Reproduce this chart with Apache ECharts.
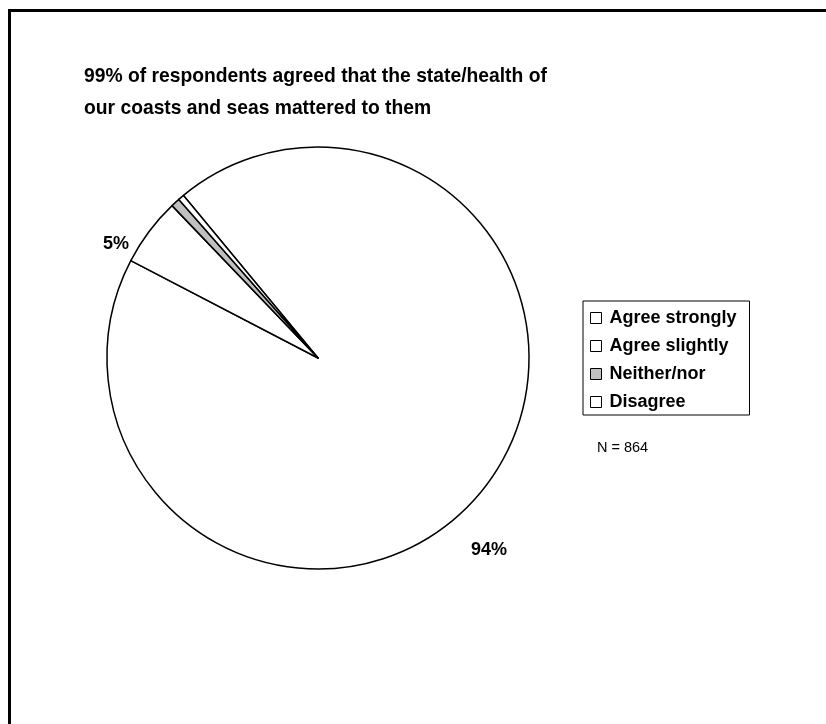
<!DOCTYPE html>
<html>
<head>
<meta charset="utf-8">
<script src="https://cdn.jsdelivr.net/npm/echarts@6/dist/echarts.min.js"></script>
<style>
html,body{margin:0;padding:0;background:#fff;}
#c{width:826px;height:724px;}
</style>
</head>
<body>
<div id="c"></div>
<script>
var categories = ['Agree strongly', 'Agree slightly', 'Neither/nor', 'Disagree'];
var counts = [809, 45, 6, 4];
var fills = ['#ffffff', '#ffffff', '#c0c0c0', '#ffffff'];
var titleText = '99% of respondents agreed that the state/health of\nour coasts and seas mattered to them';
var noteText = 'N = 864';
var labelPos = [[489, 550], [116, 244]];

var chart = echarts.init(document.getElementById('c'), null, {renderer: 'canvas'});
var data = categories.map(function (name, i) {
  return {
    name: name,
    value: counts[i],
    itemStyle: {color: fills[i]},
    label: {show: i < 2}
  };
});
chart.setOption({
  animation: false,
  backgroundColor: '#ffffff',
  title: {
    text: titleText,
    left: 84,
    top: 61,
    padding: 0,
    textStyle: {
      fontFamily: 'Liberation Sans, Arial, sans-serif',
      fontSize: 19.3,
      fontWeight: 'bold',
      color: '#000',
      lineHeight: 32
    }
  },
  legend: {
    orient: 'vertical',
    left: 583,
    top: 301,
    data: categories,
    itemWidth: 11,
    itemHeight: 11,
    itemGap: 10,
    padding: [8, 13, 4, 7],
    borderColor: '#000',
    borderWidth: 1,
    borderRadius: 0,
    icon: 'rect',
    selectedMode: false,
    itemStyle: {borderColor: '#000', borderWidth: 1},
    textStyle: {
      fontFamily: 'Liberation Sans, Arial, sans-serif',
      fontSize: 18,
      fontWeight: 'bold',
      color: '#000',
      padding: [0, 0, 0, 3]
    }
  },
  graphic: [
    {type: 'line', shape: {x1: 9.5, y1: 10.5, x2: 9.5, y2: 724}, style: {stroke: '#000', lineWidth: 3}},
    {type: 'line', shape: {x1: 8, y1: 10.5, x2: 826, y2: 10.5}, style: {stroke: '#000', lineWidth: 3}},
    {type: 'text', left: 597, top: 440, style: {text: noteText, fontFamily: 'Liberation Sans, Arial, sans-serif', fontSize: 14.5, fill: '#000'}}
  ],
  series: [{
    type: 'pie',
    center: [318, 358],
    radius: 211,
    startAngle: 129.6,
    clockwise: true,
    avoidLabelOverlap: false,
    itemStyle: {borderColor: '#000', borderWidth: 1.5},
    emphasis: {disabled: true},
    label: {
      position: 'outside',
      formatter: function (p) { return Math.round(p.percent) + '%'; },
      fontFamily: 'Liberation Sans, Arial, sans-serif',
      fontSize: 18,
      fontWeight: 'bold',
      color: '#000'
    },
    labelLine: {show: false},
    labelLayout: function (p) {
      var pos = labelPos[p.dataIndex];
      if (!pos) return {};
      return {x: pos[0], y: pos[1], align: 'center', verticalAlign: 'middle'};
    },
    data: data
  }]
});
</script>
</body>
</html>
